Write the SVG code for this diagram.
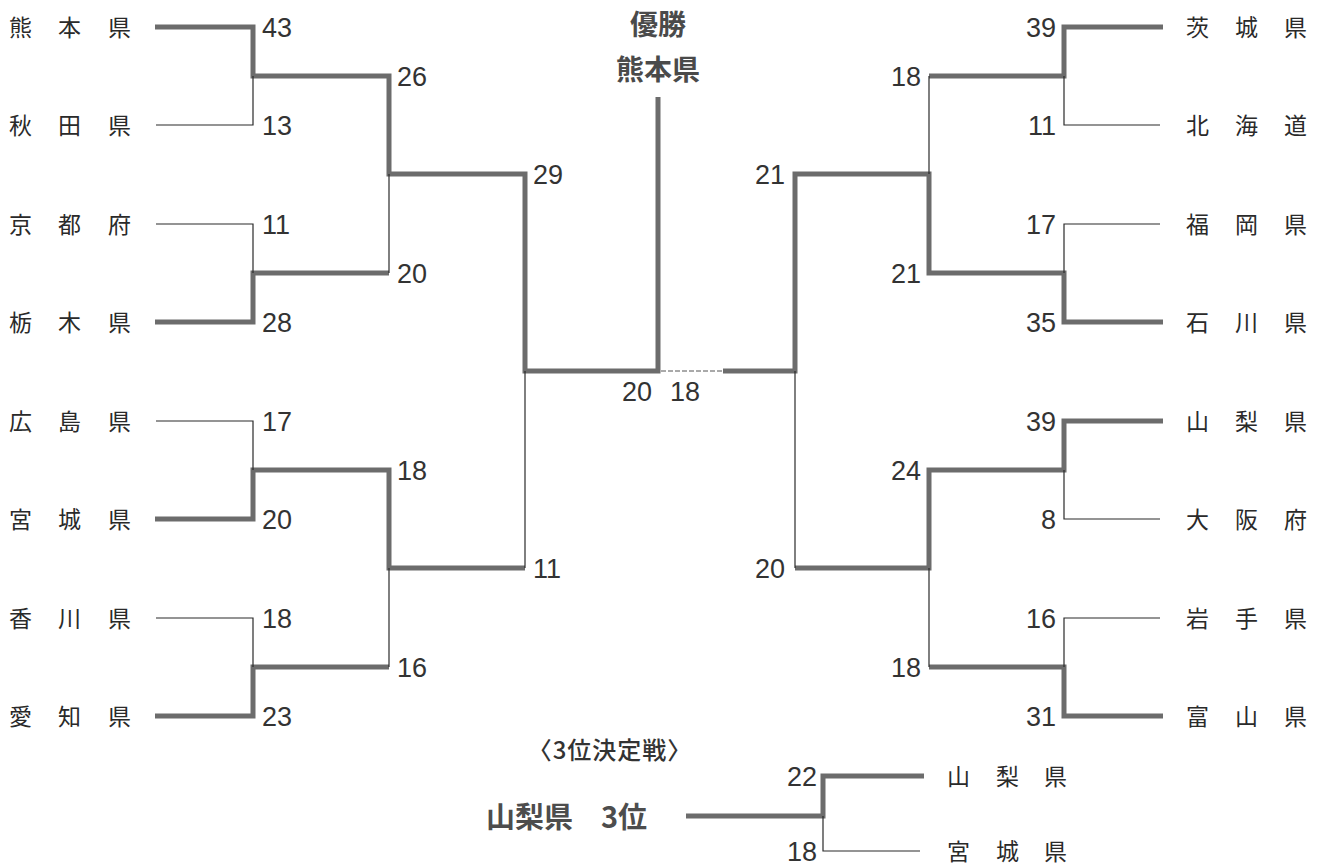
<svg xmlns="http://www.w3.org/2000/svg" width="1323" height="868" viewBox="0 0 1323 868">
<style>
.bg{fill:#ffffff}
.thick{fill:none;stroke:#6c6c6c;stroke-width:5;stroke-linejoin:miter;stroke-linecap:butt}
.thin{fill:none;stroke:#2a2a2a;stroke-width:1.2}
.faint{fill:none;stroke:#555555;stroke-width:1;stroke-dasharray:5 2}
.name{font-family:"Noto Sans CJK JP","Noto Sans CJK SC",sans-serif;font-size:23px;fill:#2a2a2a}
.num{font-family:"Liberation Sans","Noto Sans",sans-serif;font-size:27px;fill:#333333}
.numr{font-family:"Liberation Sans","Noto Sans",sans-serif;font-size:27px;fill:#333333;text-anchor:end}
.title{font-family:"Noto Sans CJK JP","Noto Sans CJK SC",sans-serif;font-size:28px;font-weight:700;fill:#4a4a4a;text-anchor:middle}
.sub{font-family:"Noto Sans CJK JP","Noto Sans CJK SC",sans-serif;font-size:24px;font-weight:500;letter-spacing:1px;fill:#333333;text-anchor:middle}
.bold{font-family:"Noto Sans CJK JP","Noto Sans CJK SC",sans-serif;font-size:29px;font-weight:700;fill:#4d4d4d}
</style>
<rect class="bg" x="0" y="0" width="1323" height="868"/>

<g id="connectors">
  <path class="thick" d="M155 27 H253 V76 H389 V174 H525 V371 H658 V97"/>
  <path class="thick" d="M155 322 H253 V273 H389"/>
  <path class="thick" d="M155 519 H253 V470 H389 V568 H525"/>
  <path class="thick" d="M155 716 H253 V667 H389"/>
  <path class="thin" d="M156 125 H253 V76"/>
  <path class="thin" d="M156 224 H253 V273"/>
  <path class="thin" d="M389 174 V273"/>
  <path class="thin" d="M156 421 H253 V470"/>
  <path class="thin" d="M156 618 H253 V667"/>
  <path class="thin" d="M389 568 V667"/>
  <path class="thin" d="M525 371 V568"/>
  <path class="thick" d="M1163 27 H1064 V76 H929"/>
  <path class="thick" d="M1163 322 H1064 V273 H929 V174 H795 V371 H723"/>
  <path class="thick" d="M1163 421 H1064 V470 H929 V568 H795"/>
  <path class="thick" d="M1163 716 H1064 V667 H929"/>
  <path class="thin" d="M1160 125 H1064 V76"/>
  <path class="thin" d="M1160 224 H1064 V273"/>
  <path class="thin" d="M929 76 V174"/>
  <path class="thin" d="M1160 519 H1064 V470"/>
  <path class="thin" d="M1160 618 H1064 V667"/>
  <path class="thin" d="M929 568 V667"/>
  <path class="thin" d="M795 371 V568"/>
  <path class="faint" d="M661 371 H723"/>
  <path class="thick" d="M924 776 H823 V816 H686"/>
  <path class="thin" d="M920 851 H823 V816"/>
</g>

<g id="scores">
  <text class="num" x="262" y="37">43</text>
  <text class="num" x="262" y="135">13</text>
  <text class="num" x="262" y="234">11</text>
  <text class="num" x="262" y="332">28</text>
  <text class="num" x="262" y="431">17</text>
  <text class="num" x="262" y="529">20</text>
  <text class="num" x="262" y="628">18</text>
  <text class="num" x="262" y="726">23</text>
  <text class="num" x="397" y="86">26</text>
  <text class="num" x="397" y="283">20</text>
  <text class="num" x="397" y="480">18</text>
  <text class="num" x="397" y="677">16</text>
  <text class="num" x="533" y="184">29</text>
  <text class="num" x="533" y="578">11</text>
  <text class="numr" x="652" y="401">20</text>
  <text class="num" x="670" y="401">18</text>
  <text class="numr" x="785" y="184">21</text>
  <text class="numr" x="785" y="578">20</text>
  <text class="numr" x="921" y="86">18</text>
  <text class="numr" x="921" y="283">21</text>
  <text class="numr" x="921" y="480">24</text>
  <text class="numr" x="921" y="677">18</text>
  <text class="numr" x="1056" y="37">39</text>
  <text class="numr" x="1056" y="135">11</text>
  <text class="numr" x="1056" y="234">17</text>
  <text class="numr" x="1056" y="332">35</text>
  <text class="numr" x="1056" y="431">39</text>
  <text class="numr" x="1056" y="529">8</text>
  <text class="numr" x="1056" y="628">16</text>
  <text class="numr" x="1056" y="726">31</text>
  <text class="numr" x="817" y="786">22</text>
  <text class="numr" x="817" y="861">18</text>
</g>

<g id="champion">
  <text class="title" x="658" y="35">優勝</text>
  <text class="title" x="658" y="80">熊本県</text>
</g>

<g id="team-kumamoto"><text class="name" x="9 58 108" y="36">熊本県</text></g>
<g id="team-akita"><text class="name" x="9 58 108" y="134">秋田県</text></g>
<g id="team-kyoto"><text class="name" x="9 58 108" y="233">京都府</text></g>
<g id="team-tochigi"><text class="name" x="9 58 108" y="331">栃木県</text></g>
<g id="team-hiroshima"><text class="name" x="9 58 108" y="430">広島県</text></g>
<g id="team-miyagi"><text class="name" x="9 58 108" y="528">宮城県</text></g>
<g id="team-kagawa"><text class="name" x="9 58 108" y="627">香川県</text></g>
<g id="team-aichi"><text class="name" x="9 58 108" y="725">愛知県</text></g>

<g id="team-ibaraki"><text class="name" x="1186 1235 1284" y="36">茨城県</text></g>
<g id="team-hokkaido"><text class="name" x="1186 1235 1284" y="134">北海道</text></g>
<g id="team-fukuoka"><text class="name" x="1186 1235 1284" y="233">福岡県</text></g>
<g id="team-ishikawa"><text class="name" x="1186 1235 1284" y="331">石川県</text></g>
<g id="team-yamanashi"><text class="name" x="1186 1235 1284" y="430">山梨県</text></g>
<g id="team-osaka"><text class="name" x="1186 1235 1284" y="528">大阪府</text></g>
<g id="team-iwate"><text class="name" x="1186 1235 1284" y="627">岩手県</text></g>
<g id="team-toyama"><text class="name" x="1186 1235 1284" y="725">富山県</text></g>

<g id="third-place">
  <text class="sub" x="610" y="759">〈3位決定戦〉</text>
  <text class="bold" y="828"><tspan x="486">山梨県　</tspan><tspan x="601">3位</tspan></text>
</g>
<g id="third-yamanashi"><text class="name" x="947 996 1044" y="785">山梨県</text></g>
<g id="third-miyagi"><text class="name" x="947 996 1044" y="860">宮城県</text></g>
</svg>
